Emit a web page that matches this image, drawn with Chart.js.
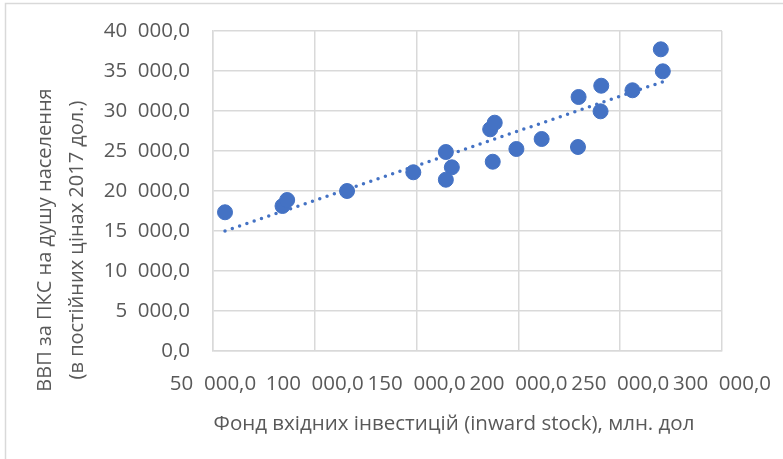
<!DOCTYPE html>
<html>
<head>
<meta charset="utf-8">
<script src="https://cdn.jsdelivr.net/npm/chart.js@4"></script>
<style>
  html, body { margin: 0; padding: 0; background: #fff; }
  #wrap { width: 783px; height: 459px; position: relative; }
</style>
</head>
<body>
<div id="wrap"><canvas id="gdpChart" width="783" height="459"></canvas></div>
<script>
// inward FDI stock, mln USD
const stockX = [55900, 84150, 86430, 115840, 148390, 164370, 167310, 164370, 186130, 188380,
    187400, 199020, 211420, 229260, 229560, 240690, 240350, 256030, 269950, 270930];
// GDP per capita PPP, const 2017 USD
const gdpY = [17340, 18125, 18875, 20000, 22340, 24875, 22960, 21410, 27710, 28540,
    23660, 25250, 26500, 25500, 31750, 33160, 29960, 32590, 37710, 34960];
// linear trendline ends as drawn
const trendX = [55900, 270930];
const trendY = [15000, 33660];

const xTitle = 'Фонд вхідних інвестицій (inward stock), млн. дол';
const yTitle = ['ВВП за ПКС на душу населення', '(в постійних цінах 2017 дол.)'];

const FONT = '"Open Sans", "Noto Sans", sans-serif';
const GREY = '#595959';
const GRID = '#d9d9d9';

function fmt(v) {
    const s = Math.round(v).toString().replace(/\B(?=(\d{3})+(?!\d))/g, '\u00a0\u00a0');
    return s + ',0';
}

const framePlugin = {
    id: 'frame',
    beforeDraw(chart) {
        const ctx = chart.ctx;
        ctx.save();
        ctx.fillStyle = '#fff';
        ctx.fillRect(0, 0, chart.width, chart.height);
        ctx.strokeStyle = GRID;
        ctx.lineWidth = 1.5;
        ctx.strokeRect(5.5, 3.5, chart.width + 10, chart.height + 10);
        ctx.restore();
    },
    afterDraw(chart) {
        const ctx = chart.ctx;
        ctx.save();
        ctx.fillStyle = GREY;
        ctx.font = '20.5px ' + FONT;
        ctx.textAlign = 'center';
        ctx.textBaseline = 'middle';
        ctx.fillText(xTitle, 454, 424);
        ctx.font = '20px ' + FONT;
        ctx.translate(0, 240);
        ctx.rotate(-Math.PI / 2);
        ctx.fillText(yTitle[0], 0, 45);
        ctx.fillText(yTitle[1], 0, 77);
        ctx.restore();
    }
};

const ctx = document.getElementById('gdpChart').getContext('2d');
new Chart(ctx, {
    type: 'scatter',
    data: {
        datasets: [{
            label: 'ВВП',
            data: stockX.map((x, i) => ({ x: x, y: gdpY[i] })),
            backgroundColor: '#4472C4',
            borderColor: '#4472C4',
            borderWidth: 1,
            pointRadius: 7.5,
            pointHoverRadius: 7.5
        }, {
            label: 'Тренд',
            type: 'line',
            data: trendX.map((x, i) => ({ x: x, y: trendY[i] })),
            borderColor: '#4472C4',
            borderWidth: 3.5,
            borderDash: [0, 7.7],
            borderCapStyle: 'round',
            pointRadius: 0,
            fill: false,
            tension: 0
        }]
    },
    options: {
        responsive: false,
        animation: false,
        layout: { padding: { left: 0, top: 31, right: 61, bottom: 0 } },
        scales: {
            x: {
                type: 'linear',
                min: 50000,
                max: 300000,
                afterFit: s => { s.height = 108; s.paddingLeft = 0; s.paddingRight = 0; },
                ticks: {
                    stepSize: 50000,
                    autoSkip: false,
                    maxRotation: 0,
                    minRotation: 0,
                    padding: 21,
                    color: GREY,
                    font: { family: FONT, size: 20.5 },
                    callback: v => fmt(v)
                },
                grid: { color: GRID, lineWidth: 1.5, drawTicks: false },
                border: { color: GRID, width: 1.5 }
            },
            y: {
                min: 0,
                max: 40000,
                afterFit: s => { s.width = 213; s.paddingTop = 0; s.paddingBottom = 0; },
                ticks: {
                    stepSize: 5000,
                    padding: 23,
                    color: GREY,
                    font: { family: FONT, size: 20.5 },
                    callback: v => fmt(v)
                },
                grid: { color: GRID, lineWidth: 1.5, drawTicks: false },
                border: { color: GRID, width: 1.5 }
            }
        },
        plugins: {
            legend: { display: false },
            tooltip: { enabled: false }
        }
    },
    plugins: [framePlugin]
});
</script>
</body>
</html>
